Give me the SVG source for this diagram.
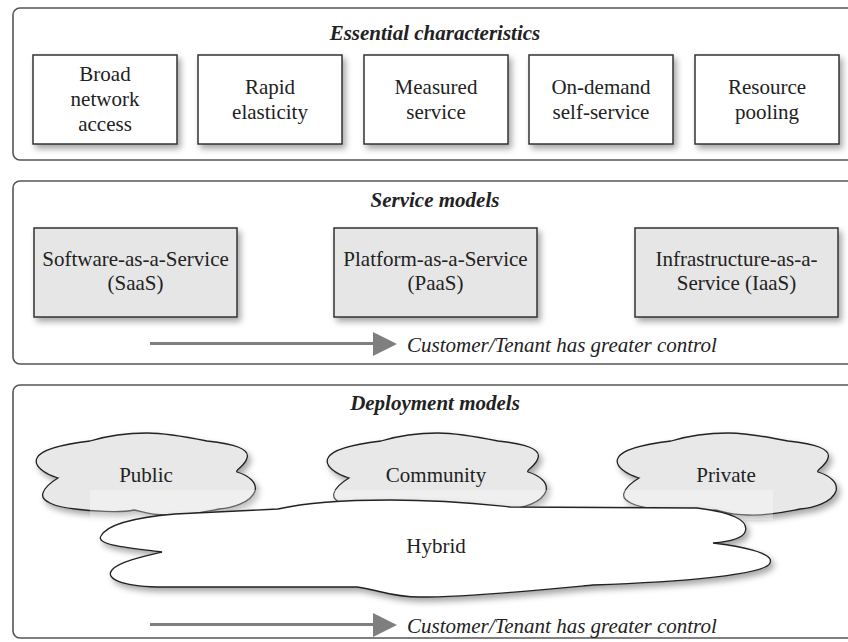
<svg xmlns="http://www.w3.org/2000/svg" width="848" height="642" viewBox="0 0 848 642" font-family="'Liberation Serif', 'DejaVu Serif', serif">
<defs>
<filter id="sh" x="-10%" y="-10%" width="125%" height="140%">
<feDropShadow dx="3" dy="4" stdDeviation="3" flood-color="#000" flood-opacity="0.35"/>
</filter>
<path id="cloud" d="M23,45 C10,41 -2,33 2,25 C6,16 30,11 55,8 C75,2 95,0 112,0 C132,0 152,4 172,8 C200,11 215,16 212,25 C210,33 200,37 202,39 C215,43 222,50 220,58 C216,70 196,75 184,76 C168,79 150,83 132,82 C112,82 106,78 99,77 C85,80 55,78 40,76 C20,74 5,68 8,60 C10,53 18,48 23,45 Z"/>
</defs>
<style>
text{font-family:'Liberation Serif','DejaVu Serif',serif;font-size:21px;fill:#222;text-anchor:middle}
.title{font-weight:bold;font-style:italic}
.note{font-style:italic;text-anchor:start}
.panel{fill:#fff;stroke:#555;stroke-width:1.6}
.box{fill:#fff;stroke:#333;stroke-width:1.5;filter:url(#sh)}
.gbox{fill:#e6e6e6;stroke:#333;stroke-width:1.5;filter:url(#sh)}
.gcloud{fill:#e8e8e8;stroke:#222;stroke-width:1.3;filter:url(#sh)}
.wcloud{fill:#fff;stroke:#222;stroke-width:1.3;filter:url(#sh)}
.arr{stroke:#7f7f7f;stroke-width:3;fill:none}
.head{fill:#7f7f7f}
</style>
<rect width="848" height="642" fill="#fff"/>

<g id="panel-essential">
<rect class="panel" x="13" y="8" width="850" height="152" rx="7"/>
<text class="title" x="435" y="40">Essential characteristics</text>
</g>
<g id="broad-network-access">
<rect class="box" x="33" y="55" width="144" height="89"/>
<text x="105" y="81">Broad</text><text x="105" y="106">network</text><text x="105" y="131">access</text>
</g>
<g id="rapid-elasticity">
<rect class="box" x="198" y="55" width="144" height="89"/>
<text x="270" y="94">Rapid</text><text x="270" y="119">elasticity</text>
</g>
<g id="measured-service">
<rect class="box" x="364" y="55" width="144" height="89"/>
<text x="436" y="94">Measured</text><text x="436" y="119">service</text>
</g>
<g id="on-demand">
<rect class="box" x="529" y="55" width="144" height="89"/>
<text x="601" y="94">On-demand</text><text x="601" y="119">self-service</text>
</g>
<g id="resource-pooling">
<rect class="box" x="695" y="55" width="144" height="89"/>
<text x="767" y="94">Resource</text><text x="767" y="119">pooling</text>
</g>

<g id="panel-service">
<rect class="panel" x="13" y="181" width="850" height="183" rx="7"/>
<text class="title" x="435" y="207">Service models</text>
</g>
<g id="saas">
<rect class="gbox" x="34" y="228" width="203" height="89"/>
<text x="135.5" y="266">Software-as-a-Service</text><text x="135.5" y="290">(SaaS)</text>
</g>
<g id="paas">
<rect class="gbox" x="334" y="228" width="203" height="89"/>
<text x="435.5" y="266">Platform-as-a-Service</text><text x="435.5" y="290">(PaaS)</text>
</g>
<g id="iaas">
<rect class="gbox" x="635" y="228" width="203" height="89"/>
<text x="736.5" y="266">Infrastructure-as-a-</text><text x="736.5" y="290">Service (IaaS)</text>
</g>

<g id="panel-deployment">
<rect class="panel" x="13" y="385" width="850" height="253" rx="7"/>
<text class="title" x="435" y="410">Deployment models</text>
</g>
<g id="public">
<use href="#cloud" class="gcloud" transform="translate(35,433)"/>
<text x="146" y="482">Public</text>
</g>
<g id="community">
<use href="#cloud" class="gcloud" transform="translate(326,433)"/>
<text x="436" y="482">Community</text>
</g>
<g id="private">
<use href="#cloud" class="gcloud" transform="translate(616,433)"/>
<text x="726" y="482">Private</text>
</g>
<rect x="90" y="490" width="683" height="30" fill="#fff" opacity="0.3"/>
<g id="hybrid">
<path class="wcloud" d="M162,552 C130,548 95,545 101,536 C108,523 140,517 175,514 L278,509 C300,504 340,500 390,500 C450,500 490,505 510,507 L697,508 C730,512 750,520 745,532 C742,540 725,542 713,543 C740,546 775,553 770,563 C765,575 680,582 593,585 C540,590 470,597 420,597 C390,597 380,590 357,587 L157,587 C120,586 105,578 112,570 C118,562 145,556 162,552 Z"/>
<text x="436" y="553">Hybrid</text>
</g>

<g id="connectors">
<line class="arr" x1="150" y1="343.5" x2="376" y2="343.5"/>
<polygon class="head" points="373,332 397,344 373,356"/>
<line class="arr" x1="150" y1="624.5" x2="376" y2="624.5"/>
<polygon class="head" points="373,613 397,625 373,637"/>
</g>
<text class="note" x="407" y="352">Customer/Tenant has greater control</text>
<text class="note" x="407" y="633">Customer/Tenant has greater control</text>
</svg>
